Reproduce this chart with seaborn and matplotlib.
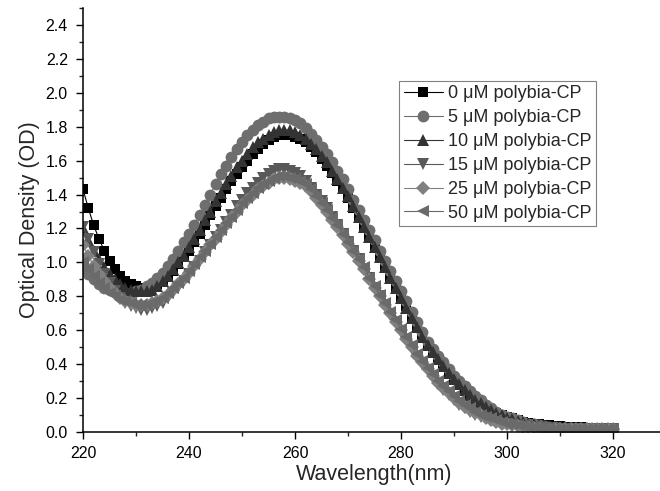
import numpy as np
import pandas as pd
import matplotlib
matplotlib.use("Agg")
import matplotlib.pyplot as plt
import seaborn as sns
from matplotlib.ticker import MultipleLocator

# wavelength axis (nm)
wavelength = np.arange(220, 321)

od_0 = [1.43, 1.32, 1.22, 1.14, 1.07, 1.01, 0.96, 0.92, 0.89, 0.87,
        0.86, 0.85, 0.85, 0.86, 0.87, 0.89, 0.92, 0.95, 0.99, 1.03,
        1.07, 1.12, 1.17, 1.22, 1.28, 1.33, 1.38, 1.43, 1.48, 1.52,
        1.56, 1.60, 1.64, 1.67, 1.70, 1.72, 1.74, 1.75, 1.75, 1.75,
        1.74, 1.73, 1.71, 1.68, 1.65, 1.61, 1.57, 1.53, 1.48, 1.43,
        1.38, 1.32, 1.27, 1.21, 1.15, 1.09, 1.03, 0.97, 0.91, 0.85,
        0.79, 0.74, 0.68, 0.62, 0.57, 0.52, 0.47, 0.43, 0.39, 0.35,
        0.31, 0.28, 0.25, 0.22, 0.19, 0.17, 0.15, 0.13, 0.11, 0.10,
        0.09, 0.08, 0.07, 0.06, 0.055, 0.05, 0.045, 0.04, 0.04, 0.035,
        0.035, 0.03, 0.03, 0.03, 0.03, 0.025, 0.025, 0.025, 0.025, 0.025,
        0.02]

od_5 = [0.98, 0.93, 0.90, 0.87, 0.85, 0.84, 0.83, 0.82, 0.82, 0.82,
        0.83, 0.84, 0.86, 0.88, 0.91, 0.94, 0.98, 1.02, 1.07, 1.12,
        1.17, 1.22, 1.28, 1.34, 1.40, 1.46, 1.52, 1.57, 1.62, 1.67,
        1.71, 1.75, 1.78, 1.81, 1.83, 1.85, 1.86, 1.86, 1.86, 1.85,
        1.84, 1.82, 1.79, 1.76, 1.72, 1.68, 1.64, 1.59, 1.54, 1.49,
        1.43, 1.37, 1.31, 1.25, 1.19, 1.13, 1.07, 1.01, 0.95, 0.89,
        0.83, 0.77, 0.71, 0.65, 0.59, 0.53, 0.49, 0.45, 0.41, 0.37,
        0.33, 0.30, 0.27, 0.24, 0.21, 0.19, 0.16, 0.14, 0.12, 0.10,
        0.09, 0.08, 0.07, 0.06, 0.05, 0.045, 0.04, 0.035, 0.03, 0.03,
        0.025, 0.025, 0.025, 0.02, 0.02, 0.02, 0.02, 0.02, 0.02, 0.02,
        0.02]

od_10 = [1.20, 1.13, 1.07, 1.02, 0.97, 0.93, 0.90, 0.87, 0.85, 0.84,
         0.83, 0.83, 0.83, 0.84, 0.86, 0.89, 0.92, 0.96, 1.00, 1.04,
         1.09, 1.14, 1.19, 1.25, 1.30, 1.36, 1.41, 1.46, 1.51, 1.56,
         1.60, 1.64, 1.68, 1.71, 1.73, 1.75, 1.77, 1.78, 1.78, 1.78,
         1.77, 1.75, 1.73, 1.70, 1.67, 1.63, 1.59, 1.54, 1.49, 1.44,
         1.39, 1.33, 1.27, 1.21, 1.15, 1.09, 1.03, 0.97, 0.91, 0.85,
         0.79, 0.73, 0.67, 0.62, 0.56, 0.51, 0.47, 0.43, 0.39, 0.35,
         0.31, 0.28, 0.25, 0.22, 0.19, 0.17, 0.15, 0.13, 0.11, 0.10,
         0.085, 0.075, 0.065, 0.06, 0.05, 0.045, 0.04, 0.035, 0.035, 0.03,
         0.03, 0.03, 0.025, 0.025, 0.025, 0.025, 0.02, 0.02, 0.02, 0.02,
         0.02]

od_15 = [1.21, 1.14, 1.06, 0.99, 0.93, 0.88, 0.83, 0.79, 0.76, 0.74,
         0.73, 0.72, 0.72, 0.73, 0.74, 0.76, 0.79, 0.82, 0.85, 0.89,
         0.93, 0.97, 1.01, 1.06, 1.10, 1.15, 1.19, 1.24, 1.28, 1.33,
         1.37, 1.41, 1.44, 1.47, 1.50, 1.52, 1.54, 1.55, 1.55, 1.54,
         1.53, 1.51, 1.48, 1.44, 1.40, 1.36, 1.32, 1.27, 1.22, 1.17,
         1.12, 1.07, 1.02, 0.96, 0.91, 0.85, 0.80, 0.74, 0.69, 0.64,
         0.59, 0.54, 0.49, 0.44, 0.40, 0.36, 0.32, 0.28, 0.25, 0.22,
         0.19, 0.16, 0.14, 0.12, 0.10, 0.09, 0.08, 0.07, 0.06, 0.05,
         0.045, 0.04, 0.035, 0.03, 0.03, 0.025, 0.025, 0.02, 0.02, 0.02,
         0.02, 0.02, 0.02, 0.02, 0.02, 0.02, 0.02, 0.02, 0.02, 0.02,
         0.02]

od_25 = [1.10, 1.04, 0.98, 0.93, 0.89, 0.85, 0.82, 0.79, 0.77, 0.76,
         0.75, 0.75, 0.75, 0.76, 0.77, 0.79, 0.81, 0.84, 0.87, 0.90,
         0.94, 0.98, 1.02, 1.06, 1.10, 1.14, 1.18, 1.22, 1.26, 1.30,
         1.34, 1.37, 1.40, 1.43, 1.45, 1.47, 1.49, 1.50, 1.50, 1.49,
         1.48, 1.47, 1.45, 1.42, 1.38, 1.34, 1.30, 1.25, 1.21, 1.16,
         1.11, 1.06, 1.01, 0.96, 0.90, 0.85, 0.80, 0.75, 0.70, 0.65,
         0.60, 0.55, 0.50, 0.45, 0.41, 0.37, 0.33, 0.29, 0.26, 0.23,
         0.20, 0.17, 0.15, 0.13, 0.11, 0.10, 0.08, 0.07, 0.06, 0.05,
         0.045, 0.04, 0.035, 0.03, 0.03, 0.025, 0.025, 0.02, 0.02, 0.02,
         0.02, 0.02, 0.02, 0.02, 0.02, 0.02, 0.02, 0.02, 0.02, 0.02,
         0.02]

od_50 = [1.00, 0.96, 0.92, 0.88, 0.85, 0.82, 0.80, 0.78, 0.77, 0.76,
         0.75, 0.75, 0.75, 0.76, 0.77, 0.79, 0.82, 0.85, 0.88, 0.91,
         0.95, 0.99, 1.03, 1.07, 1.11, 1.15, 1.19, 1.23, 1.27, 1.31,
         1.35, 1.38, 1.41, 1.44, 1.46, 1.48, 1.50, 1.51, 1.51, 1.50,
         1.49, 1.48, 1.46, 1.43, 1.39, 1.35, 1.31, 1.26, 1.22, 1.17,
         1.12, 1.07, 1.02, 0.97, 0.91, 0.86, 0.81, 0.76, 0.71, 0.66,
         0.61, 0.56, 0.51, 0.46, 0.42, 0.38, 0.34, 0.30, 0.27, 0.24,
         0.21, 0.18, 0.16, 0.14, 0.12, 0.10, 0.09, 0.08, 0.07, 0.06,
         0.05, 0.045, 0.04, 0.035, 0.03, 0.03, 0.025, 0.025, 0.02, 0.02,
         0.02, 0.02, 0.02, 0.02, 0.02, 0.02, 0.02, 0.02, 0.02, 0.02,
         0.02]

labels = ["0 μM polybia-CP", "5 μM polybia-CP", "10 μM polybia-CP",
          "15 μM polybia-CP", "25 μM polybia-CP", "50 μM polybia-CP"]
series = [od_0, od_5, od_10, od_15, od_25, od_50]

markers = ["s", "o", "^", "v", "D", "<"]
colors = ["#000000", "#6e6e6e", "#333333", "#595959", "#808080", "#6a6a6a"]
msizes = [7, 8.5, 8.5, 8.5, 7, 8.5]

sns.set_style("ticks")
plt.rcParams["font.family"] = ["Liberation Sans", "DejaVu Sans"]

fig = plt.figure(figsize=(6.6, 4.91), dpi=100)
ax = fig.add_axes([0.1258, 0.1202, 0.8833, 0.8635])

for lab, vals, m, c, ms in zip(labels, series, markers, colors, msizes):
    df = pd.DataFrame({"wl": wavelength, "od": vals})
    sns.lineplot(data=df, x="wl", y="od", ax=ax, color=c, marker=m,
                 markersize=ms, markeredgewidth=0, linewidth=0.8,
                 label=lab)

ax.set_xlim(220, 330)
ax.set_ylim(0, 2.5)
ax.xaxis.set_major_locator(MultipleLocator(20))
ax.xaxis.set_minor_locator(MultipleLocator(10))
ax.yaxis.set_minor_locator(MultipleLocator(0.1))
ax.set_yticks(np.arange(0, 2.41, 0.2))
ax.yaxis.set_major_formatter(plt.FuncFormatter(lambda v, p: f"{v:.1f}"))

ax.tick_params(which="major", length=5, width=1, labelsize=11.5, colors="black")
ax.tick_params(which="minor", length=3, width=1)
ax.tick_params(axis="y", which="major", pad=6)
ax.tick_params(axis="x", which="major", pad=5)
for s in ["top", "right"]:
    ax.spines[s].set_visible(False)
for s in ["left", "bottom"]:
    ax.spines[s].set_linewidth(1.1)
    ax.spines[s].set_color("black")

ax.set_xlabel("Wavelength(nm)", fontsize=15.5, labelpad=2)
ax.set_ylabel("Optical Density (OD)", fontsize=15.5, labelpad=4)

leg = ax.legend(loc="upper left", bbox_to_anchor=(0.542, 0.828),
                fontsize=13, frameon=True, fancybox=False,
                edgecolor="#808080", framealpha=1, labelspacing=0.38,
                handlelength=2.2, handletextpad=0.25, borderpad=0.25,
                borderaxespad=0)
leg.get_frame().set_linewidth(0.8)

fig.savefig("out.png", dpi=100)
